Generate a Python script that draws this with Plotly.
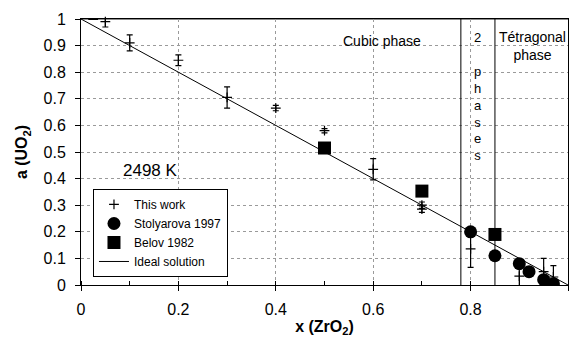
import plotly.graph_objects as go

# ---- data ----
this_x = [0.05, 0.10, 0.20, 0.30, 0.40, 0.50, 0.60, 0.70, 0.70, 0.80, 0.90, 0.95, 0.97]
this_y = [0.99, 0.91, 0.845, 0.705, 0.665, 0.58, 0.435, 0.30, 0.285, 0.136, 0.033, 0.05, 0.03]
this_err = [0.02, 0.03, 0.02, 0.04, 0.01, 0.008, 0.04, 0.012, 0.012, 0.07, 0.05, 0.05, 0.043]

extra_x = [0.025]
extra_y = [1.0]

stol_x = [0.80, 0.85, 0.90, 0.92, 0.95, 0.97]
stol_y = [0.20, 0.11, 0.08, 0.05, 0.02, 0.005]

belov_x = [0.50, 0.70, 0.85]
belov_y = [0.515, 0.353, 0.19]

ideal_x = [0.0, 1.0]
ideal_y = [1.0, 0.0]

phase_bounds = [0.78, 0.85]

x_ticks = [0, 0.2, 0.4, 0.6, 0.8, 1]
x_tick_labels = ["0", "0.2", "0.4", "0.6", "0.8", "1"]
y_ticks = [0, 0.1, 0.2, 0.3, 0.4, 0.5, 0.6, 0.7, 0.8, 0.9, 1]
y_tick_labels = ["0", "0.1", "0.2", "0.3", "0.4", "0.5", "0.6", "0.7", "0.8", "0.9", "1"]

FONT = "Liberation Sans, Arial, sans-serif"

fig = go.Figure()

# grey top frame line (drawn below traces)
fig.add_shape(type="line", xref="paper", yref="paper", x0=0, x1=1, y0=1, y1=1,
              line=dict(color="#8c8c8c", width=2), layer="below")

fig.add_trace(go.Scatter(
    x=this_x, y=this_y, mode="markers", name="This work",
    marker=dict(symbol="cross-thin-open", size=7, color="black",
                line=dict(color="black", width=1.2)),
    error_y=dict(type="data", array=this_err, visible=True,
                 color="black", thickness=1.2, width=3),
    cliponaxis=False,
))
fig.add_trace(go.Scatter(
    x=stol_x, y=stol_y, mode="markers", name="Stolyarova 1997",
    marker=dict(symbol="circle", size=13, color="black"),
))
fig.add_trace(go.Scatter(
    x=belov_x, y=belov_y, mode="markers", name="Belov 1982",
    marker=dict(symbol="square", size=13, color="black"),
))
fig.add_trace(go.Scatter(
    x=ideal_x, y=ideal_y, mode="lines", name="Ideal solution",
    line=dict(color="black", width=1),
))
fig.add_trace(go.Scatter(
    x=extra_x, y=extra_y, mode="markers", showlegend=False,
    marker=dict(symbol="line-ew", size=7, color="black",
                line=dict(color="black", width=2)),
    cliponaxis=False,
))

for xb in phase_bounds:
    fig.add_shape(type="line", xref="x", yref="y", x0=xb, x1=xb, y0=0, y1=1,
                  line=dict(color="black", width=1))

ann_font = dict(family=FONT, size=14, color="black")
fig.add_annotation(x=0.618, y=0.917, xref="x", yref="y", text="Cubic phase",
                   showarrow=False, font=ann_font)
fig.add_annotation(x=0.928, y=0.90, xref="x", yref="y",
                   text="Tétragonal<br>phase", showarrow=False,
                   font=ann_font)
fig.add_annotation(x=0.815, y=0.707, xref="x", yref="y", yanchor="middle",
                   text="2<br><br>p<br>h<br>a<br>s<br>e<br>s", showarrow=False,
                   font=dict(family=FONT, size=13, color="black"))
fig.add_annotation(x=0.142, y=0.432, xref="x", yref="y", text="2498 K",
                   showarrow=False, font=dict(family=FONT, size=17, color="black"))

fig.update_layout(
    width=572, height=340,
    margin=dict(l=81, r=4, t=19, b=55),
    plot_bgcolor="white", paper_bgcolor="white",
    font=dict(family=FONT, size=16, color="black"),
    showlegend=True,
    legend=dict(x=0.0246, y=0.361, xanchor="left", yanchor="top",
                bgcolor="white", bordercolor="black", borderwidth=1,
                font=dict(family=FONT, size=12, color="black"),
                tracegroupgap=0, itemwidth=30),
    xaxis=dict(range=[0, 1], tickvals=x_ticks, ticktext=x_tick_labels,
               showgrid=True, gridcolor="#9a9a9a", griddash="dot", gridwidth=1,
               showline=True, linecolor="black", linewidth=1, mirror=True,
               ticks="outside", ticklen=5, tickcolor="black",
               ticklabelstandoff=5,
               minor=dict(dtick=0.1, ticks="inside", ticklen=4, tickcolor="black", showgrid=False),
               zeroline=False,
               title=dict(text="<b>x (ZrO<sub>2</sub>)</b>", font=dict(family=FONT, size=16),
                          standoff=3)),
    yaxis=dict(range=[0, 1], tickvals=y_ticks, ticktext=y_tick_labels,
               showgrid=True, gridcolor="#9a9a9a", griddash="dot", gridwidth=1,
               showline=True, linecolor="black", linewidth=1, mirror=True,
               ticks="outside", ticklen=5, tickcolor="black",
               ticklabelstandoff=6,
               zeroline=False,
               title=dict(text="<b>a (UO<sub>2</sub>)</b>", font=dict(family=FONT, size=16),
                          standoff=11)),
)

fig.write_html("out.html")
